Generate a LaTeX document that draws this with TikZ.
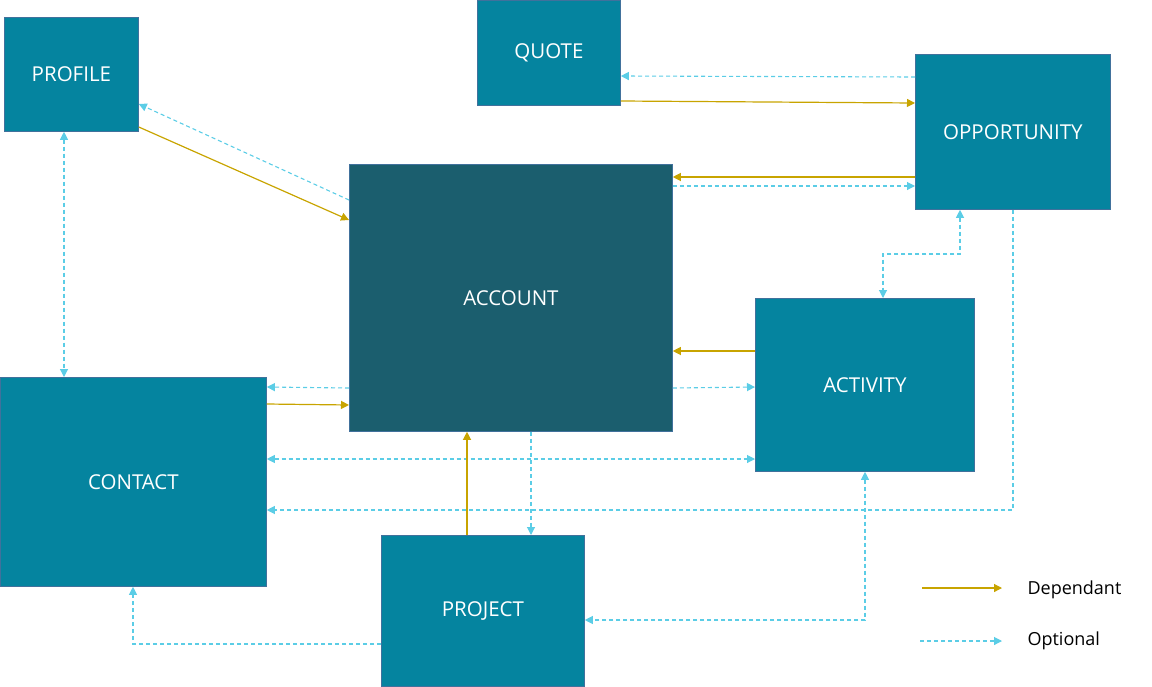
\documentclass[tikz,border=0pt]{standalone}
\usepackage{fontspec}
\setmainfont{Open Sans}
\usepackage{xcolor}
\usepackage{tikz}
\usetikzlibrary{calc}
\usetikzlibrary{arrows.meta}

\definecolor{boxblue}{HTML}{05849F}
\definecolor{boxdark}{HTML}{1B5E6E}
\definecolor{boxedge}{HTML}{41719C}
\definecolor{depgold}{HTML}{C8A400}
\definecolor{optcyan}{HTML}{5BCDE6}

\begin{document}
\begin{tikzpicture}[x=1pt,y=-1pt]
    
    \tikzstyle{entity}=[draw=boxedge,line width=0.8pt,fill=boxblue,text=white,anchor=north west,inner sep=0pt,font=\fontsize{20.5}{24}\selectfont]
    \tikzstyle{entity main}=[entity,fill=boxdark]
    \tikzstyle{dependant}=[-{Triangle[length=8pt,width=8pt]},line width=1.2pt,color=depgold]
    \tikzstyle{optional}=[-{Triangle[length=8pt,width=8pt]},line width=1.1pt,color=optcyan,dash pattern=on 4pt off 3pt]
    \tikzstyle{optional both}=[optional,{Triangle[length=8pt,width=8pt]}-{Triangle[length=8pt,width=8pt]}]
    \tikzstyle{legend text}=[black,anchor=west,font=\fontsize{18}{21}\selectfont]
    \useasboundingbox (0,0) rectangle (1152,686);
    % Entities
    \node[entity,minimum width=134pt,minimum height=114pt] (profile) at (4,17) {PROFILE};
    \node[entity,minimum width=143pt,minimum height=105pt] (quote) at (477,0) {QUOTE};
    \node[entity,minimum width=195pt,minimum height=155pt] (opportunity) at (915,54) {OPPORTUNITY};
    \node[entity main,minimum width=323pt,minimum height=267pt] (account) at (349,164) {ACCOUNT};
    \node[entity,minimum width=219pt,minimum height=173pt] (activity) at (755,298) {ACTIVITY};
    \node[entity,minimum width=266pt,minimum height=209pt] (contact) at (0,377) {CONTACT};
    \node[entity,minimum width=203pt,minimum height=151pt] (project) at (381,535) {PROJECT};

    % Quote and opportunity
	\draw[style=optional] (opportunity.west |- 0,77) -- (quote.east |- 0,76);
	\draw[style=dependant] (quote.east |- 0,101) -- (opportunity.west |- 0,103);

    % Opportunity and account
	\draw[style=dependant] (opportunity.west |- 0,177) -- (account.east |- 0,177);
	\draw[style=optional] (account.east |- 0,186) -- (opportunity.west |- 0,186);

    % Profile and account
	\draw[style=dependant] (profile.east |- 0,127) -- (account.west |- 0,220);
	\draw[style=optional] (account.west |- 0,200) -- (profile.east |- 0,104);

    % Profile and contact
	\draw[style=optional both] (profile.south -| 64,0) -- (contact.north -| 64,0);

    % Opportunity and activity
	\draw[style=optional both] (opportunity.south -| 960,0) -- (960,254) -- (883,254) -- (activity.north -| 883,0);

    % Activity and account
	\draw[style=dependant] (activity.west |- 0,351) -- (account.east |- 0,351);
	\draw[style=optional] (account.east |- 0,388) -- (activity.west |- 0,387);

    % Contact and account
	\draw[style=optional] (account.west |- 0,388) -- (contact.east |- 0,387);
	\draw[style=dependant] (contact.east |- 0,404) -- (account.west |- 0,405);

    % Contact and activity
	\draw[style=optional both] (contact.east |- 0,459) -- (activity.west |- 0,459);

    % Opportunity and contact
	\draw[style=optional] (opportunity.south -| 1013,0) -- (1013,510) -- (contact.east |- 0,510);

    % Project and account
	\draw[style=dependant] (project.north -| 467,0) -- (account.south -| 467,0);
	\draw[style=optional] (account.south -| 531,0) -- (project.north -| 531,0);

    % Activity and project
	\draw[style=optional both] (activity.south -| 865,0) -- (865,620) -- (project.east |- 0,620);

    % Project and contact
	\draw[style=optional] (project.west |- 0,644) -- (133,644) -- (contact.south -| 133,0);

    % Legend
    \coordinate (dep start) at (922,588);
    \coordinate (dep end) at (1002,588);
    \coordinate (opt start) at (920,641);
    \coordinate (opt end) at (1002,641);
	\draw[style=dependant] (dep start) -- (dep end);
	\draw[style=optional] (opt start) -- (opt end);
    \node[style=legend text] (dep label) at (1024,590) {Dependant};
    \node[style=legend text] (opt label) at (1024,641) {Optional};

\end{tikzpicture}
\end{document}
